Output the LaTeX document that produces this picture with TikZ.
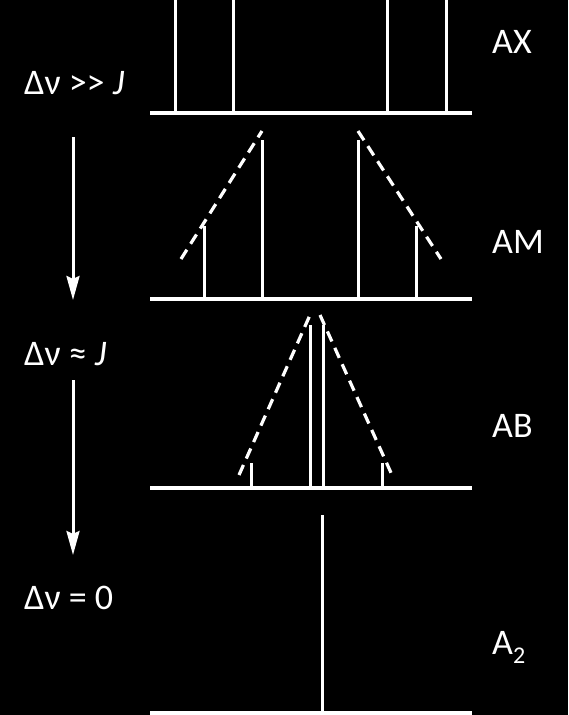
\documentclass[tikz,border=0pt]{standalone}
\usepackage{fontspec}
\setmainfont{Carlito}
\usetikzlibrary{arrows.meta,positioning}

\begin{document}
\begin{tikzpicture}[x=1pt,y=-1pt,
    stick/.style={white,line width=3pt},
    axisline/.style={white,line width=3.5pt},
    guide/.style={white,line width=3.2pt,dash pattern=on 11pt off 7pt},
    lbl/.style={white,anchor=base west,inner sep=0pt,font=\fontsize{36}{40}\selectfont},
    cond/.style={white,anchor=base west,inner sep=0pt,font=\fontsize{36}{40}\selectfont},
    arr/.style={-{Stealth[length=24pt,width=13pt,inset=3pt]},white,line width=3pt}
  ]
    \fill[black] (0,0) rectangle (568,715);
    \useasboundingbox (0,0) rectangle (568,715);

    % regime labels
    \node[cond] (far) at (24,94) {Δν >{}> \textit{J}};
    \node[cond] (near) at (24,365) {Δν ≈ \textit{J}};
    \node[cond] (same) at (24,609) {Δν = 0};
    \coordinate (a1) at (73,137); \coordinate (b1) at (73,300);
    \coordinate (a2) at (73,380); \coordinate (b2) at (73,555);
    \draw[arr] (a1)--(b1); \draw[arr] (a2)--(b2);

    % spin system labels
    \node[lbl] (ax) at (492,53) {AX};
    \node[lbl] (am) at (492,253) {AM};
    \node[lbl] (ab) at (492,437) {AB};
    \node[lbl] (aa) at (492,654) {A\raisebox{-9pt}{\fontsize{24}{24}\selectfont 2}};

    % AX
    \draw[axisline] (150,113)--(472,113);
    \foreach \x in {175,233,387,446} \draw[stick] (\x,113)--(\x,0);

    % AM
    \draw[axisline] (150,299)--(472,299);
    \foreach \x in {262,358} \draw[stick] (\x,299)--(\x,140);
    \foreach \x in {204,416} \draw[stick] (\x,299)--(\x,226);
    \draw[guide] (181,259)--(262,131);
    \draw[guide] (358,131)--(441,259);

    % AB
    \draw[axisline] (150,488)--(472,488);
    \foreach \x in {310,323} \draw[stick] (\x,488)--(\x,325);
    \foreach \x in {251,382} \draw[stick] (\x,488)--(\x,463);
    \draw[guide] (239,475)--(310,315);
    \draw[guide] (320,315)--(392,475);

    % A2
    \draw[axisline] (150,713)--(472,713);
    \draw[stick] (322,713)--(322,515);
  \end{tikzpicture}
\end{document}
